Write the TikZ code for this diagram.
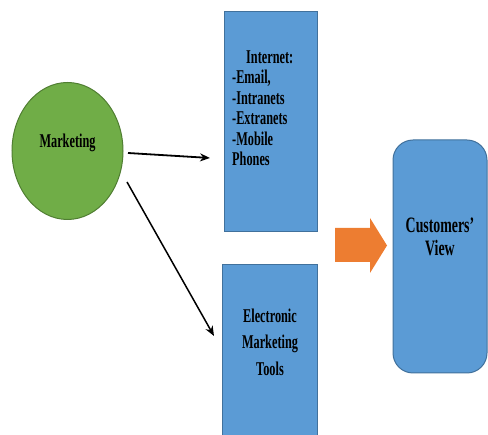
\documentclass[tikz,border=0pt]{standalone}
\usepackage{fontspec}
\setmainfont{Liberation Serif}[FakeStretch=0.63]
\usetikzlibrary{arrows.meta,shapes.geometric}
\definecolor{boxblue}{RGB}{91,155,213}
\definecolor{boxedge}{RGB}{65,113,156}
\definecolor{mktgreen}{RGB}{112,173,71}
\definecolor{mktedge}{RGB}{80,126,50}
\definecolor{flow}{RGB}{237,125,49}
\begin{document}
\begin{tikzpicture}[x=1pt,y=-1pt,
  bluebox/.style={draw=boxedge,fill=boxblue,line width=1pt,inner sep=0pt},
  lbl/.style={font=\bfseries\fontsize{19.5}{20.5}\selectfont,text=black,inner sep=0pt},
  conn/.style={-{Stealth[length=10pt,width=8pt]},line width=1.8pt}]
\useasboundingbox (0,0) rectangle (488,435);
\clip (0,0) rectangle (488,435);
\node[ellipse,draw=mktedge,fill=mktgreen,line width=1pt,minimum width=111pt,minimum height=137pt] (mkt) at (67.5,151) {};
\node[lbl] (mktlbl) at (67.5,143) {Marketing};
\node[bluebox,minimum width=93pt,minimum height=220pt] (inet) at (270.5,122) {};
\node[lbl,align=left,anchor=north west] (inetlbl) at (232,50.5) {\hspace*{14pt}Internet:\\-Email,\\-Intranets\\-Extranets\\-Mobile\\Phones};
\node[bluebox,minimum width=95pt,minimum height=190pt] (emt) at (269.5,360) {};
\node[lbl,align=center,font=\bfseries\fontsize{19.5}{26.5}\selectfont] (emtlbl) at (270,342) {Electronic\\Marketing\\Tools};
\node[bluebox,rounded corners=20pt,minimum width=94pt,minimum height=233pt] (cust) at (440,256.5) {};
\node[lbl,align=center,font=\bfseries\fontsize{22}{23}\selectfont] (custlbl) at (440,237) {Customers’\\View};
\coordinate (a1s) at (128,153);
\coordinate (a1e) at (210,158);
\coordinate (a2s) at (127,182);
\coordinate (a2e) at (214,336);
\draw[conn] (a1s) -- (a1e);
\draw[conn,line width=1.5pt] (a2s) -- (a2e);
\fill[flow] (335,228) -- (370,228) -- (370,218) -- (387,245.5) -- (370,273) -- (370,262) -- (335,262) -- cycle;
\end{tikzpicture}
\end{document}
